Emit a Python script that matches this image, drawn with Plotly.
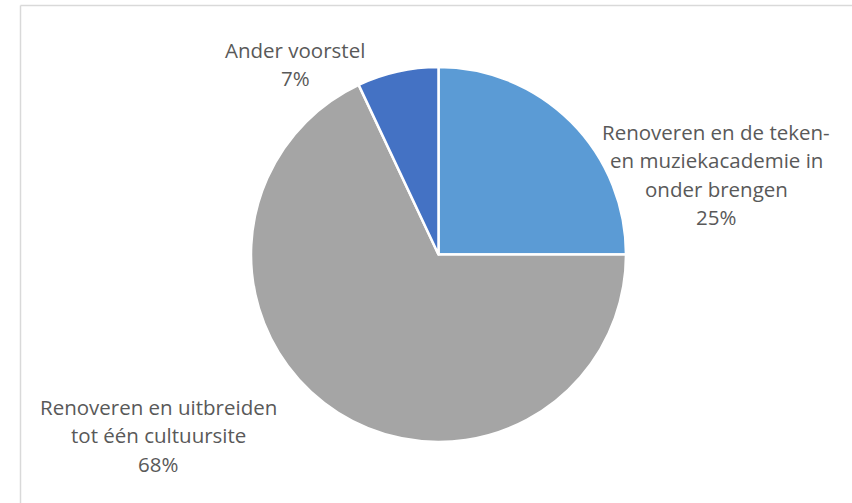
import plotly.graph_objects as go

# ---- data ----
categories = [
    "Renoveren en de teken-<br>en muziekacademie in<br>onder brengen",
    "Renoveren en uitbreiden<br>tot één cultuursite",
    "Ander voorstel",
]
values = [25, 68, 7]
colors = ["#5B9BD5", "#A5A5A5", "#4472C4"]

W, H = 852, 503
total = sum(values)
pct_labels = [f"{round(v / total * 100)}%" for v in values]

# label block centre positions (pixels): x centre, first-line centre y
label_pos = [(716, 132), (158, 407), (295, 50)]
line_gap = 28.3

fig = go.Figure(
    go.Pie(
        labels=[c.replace("<br>", " ") for c in categories],
        values=values,
        sort=False,
        direction="clockwise",
        rotation=0,
        marker=dict(colors=colors, line=dict(color="white", width=2.5)),
        textinfo="none",
        hoverinfo="label+percent",
        domain=dict(x=[251 / W, 626 / W], y=[1 - 442 / H, 1 - 67 / H]),
        showlegend=False,
    )
)

annotations = []
for cat, pct, (px, py) in zip(categories, pct_labels, label_pos):
    lines = cat.split("<br>") + [pct]
    for i, ln in enumerate(lines):
        annotations.append(
            dict(
                x=px / W,
                y=1 - (py + i * line_gap) / H,
                xref="paper",
                yref="paper",
                text=ln,
                showarrow=False,
                xanchor="center",
                yanchor="middle",
                font=dict(family="Open Sans, Carlito, Calibri, sans-serif", size=20.5, color="#595959"),
            )
        )

frame_line = dict(color="#D9D9D9", width=1.5)
fig.update_layout(
    width=W,
    height=H,
    margin=dict(l=0, r=0, t=0, b=0),
    paper_bgcolor="white",
    plot_bgcolor="white",
    annotations=annotations,
    shapes=[
        dict(type="line", xref="paper", yref="paper",
             x0=20.5 / W, x1=20.5 / W, y0=0, y1=1 - 5.5 / H, line=frame_line, layer="below"),
        dict(type="line", xref="paper", yref="paper",
             x0=20.5 / W, x1=1, y0=1 - 5.5 / H, y1=1 - 5.5 / H, line=frame_line, layer="below"),
    ],
)

fig.write_html(
    "out.html",
    config={"displayModeBar": False},
    post_script="document.body.style.margin='0';document.body.style.overflow='hidden';",
)
